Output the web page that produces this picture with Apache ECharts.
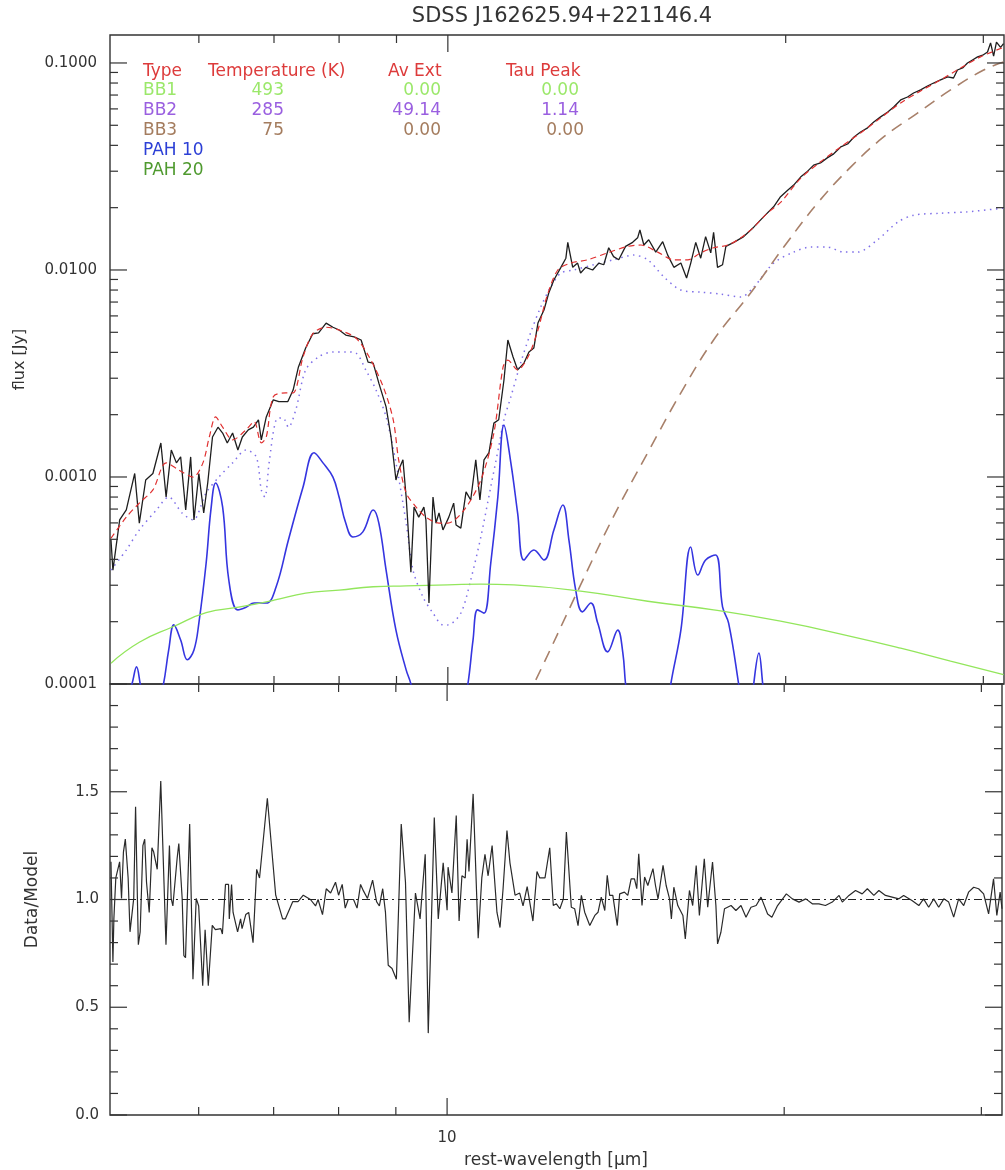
<!DOCTYPE html>
<html><head><meta charset="utf-8">
<script src="https://cdn.jsdelivr.net/npm/echarts@6/dist/echarts.min.js"></script>
<style>html,body{margin:0;padding:0;background:#fff}#c{width:1005px;height:1170px}</style>
</head><body><div id="c"></div>
<script>
const titleText = 'SDSS J162625.94+221146.4';
const XMIN = 5.0, XMAX = 31.3;
const FLUX_MIN = 0.0001, FLUX_MAX = 0.1365;
const RATIO_MIN = 0, RATIO_MAX = 2;

const xLabelTicks = [10];
const xMinorTicks = [6, 7, 8, 9, 20, 30];
const fluxMajorTicks = [0.0001, 0.001, 0.01, 0.1];
const fluxMinorTicks = [0.0002,0.0003,0.0004,0.0005,0.0006,0.0007,0.0008,0.0009,
  0.002,0.003,0.004,0.005,0.006,0.007,0.008,0.009,
  0.02,0.03,0.04,0.05,0.06,0.07,0.08,0.09];
const ratioMajorTicks = [0, 0.5, 1.0, 1.5];
const ratioMinorTicks = [0.1,0.2,0.3,0.4,0.6,0.7,0.8,0.9,1.1,1.2,1.3,1.4,1.6,1.7,1.8,1.9];

const legendHeader = ['Type', 'Temperature (K)', 'Av Ext', 'Tau Peak'];
const legendNames = ['BB1', 'BB2', 'BB3', 'PAH 10', 'PAH 20'];
const legendTemps = ['493', '285', '75', '', ''];
const legendAvExt = ['0.00', '49.14', '0.00', '', ''];
const legendTau = ['0.00', '1.14', '0.00', '', ''];

// observed spectrum [wavelength um, flux Jy]
const dataFlux = [[5.01,0.000496],[5.03,0.000355],[5.10,0.00062],[5.17,0.000693],[5.26,0.00104],[5.31,0.000599],[5.38,0.000967],[5.46,0.00104],[5.55,0.00146],[5.61,0.000801],[5.67,0.00135],[5.73,0.00117],[5.78,0.00125],[5.84,0.000693],[5.90,0.00125],[5.94,0.00062],[6.00,0.00104],[6.06,0.00067],[6.11,0.000935],[6.17,0.00156],[6.24,0.00174],[6.30,0.00163],[6.36,0.00146],[6.43,0.00163],[6.50,0.00135],[6.56,0.00156],[6.64,0.00169],[6.71,0.00174],[6.78,0.00189],[6.82,0.00151],[6.89,0.00195],[6.99,0.00236],[7.07,0.00231],[7.20,0.00231],[7.28,0.00263],[7.36,0.0034],[7.47,0.0042],[7.58,0.00492],[7.67,0.00497],[7.79,0.00554],[7.90,0.00529],[8.00,0.00513],[8.11,0.00485],[8.25,0.00475],[8.37,0.00459],[8.49,0.00359],[8.58,0.00355],[8.68,0.00284],[8.81,0.00218],[8.90,0.00156],[8.99,0.000967],[9.04,0.00108],[9.12,0.00121],[9.18,0.0008],[9.27,0.000347],[9.33,0.000715],[9.42,0.00064],[9.52,0.000715],[9.56,0.00062],[9.62,0.000246],[9.70,0.0008],[9.76,0.000599],[9.82,0.00067],[9.90,0.000555],[10.02,0.00064],[10.12,0.000748],[10.17,0.000586],[10.27,0.000566],[10.38,0.000847],[10.48,0.000774],[10.59,0.00121],[10.68,0.000774],[10.77,0.00121],[10.88,0.00131],[10.99,0.00182],[11.10,0.00189],[11.22,0.00294],[11.31,0.00459],[11.43,0.00381],[11.54,0.00329],[11.69,0.00355],[11.81,0.00402],[11.93,0.0042],[12.03,0.00554],[12.18,0.00641],[12.30,0.00774],[12.43,0.00895],[12.61,0.0103],[12.74,0.0114],[12.79,0.0136],[12.92,0.0103],[13.05,0.0108],[13.13,0.00967],[13.27,0.0103],[13.46,0.0100],[13.63,0.0108],[13.77,0.0106],[13.91,0.0128],[14.05,0.0116],[14.20,0.0112],[14.40,0.0130],[14.61,0.0136],[14.76,0.0143],[14.83,0.0156],[14.95,0.0132],[15.10,0.0140],[15.32,0.0122],[15.54,0.0137],[15.70,0.0118],[15.90,0.0103],[16.13,0.0108],[16.32,0.00915],[16.46,0.0108],[16.63,0.0136],[16.80,0.0114],[16.97,0.0145],[17.15,0.0121],[17.25,0.0152],[17.39,0.0103],[17.57,0.0106],[17.69,0.0130],[17.98,0.0136],[18.35,0.0145],[18.73,0.0161],[19.12,0.0181],[19.51,0.0202],[19.79,0.0226],[20.08,0.0243],[20.33,0.0257],[20.62,0.0281],[20.88,0.0297],[21.18,0.0321],[21.48,0.0329],[21.78,0.0348],[22.07,0.0364],[22.39,0.0393],[22.71,0.0406],[23.01,0.0439],[23.32,0.0464],[23.66,0.0486],[23.96,0.0519],[24.30,0.0549],[24.66,0.058],[24.96,0.0613],[25.32,0.0663],[25.68,0.0685],[26.00,0.0716],[26.38,0.0741],[26.75,0.0774],[27.09,0.08],[27.48,0.0828],[27.88,0.0856],[28.22,0.0846],[28.45,0.0925],[28.75,0.0946],[29.04,0.100],[29.34,0.1034],[29.65,0.107],[29.96,0.109],[30.26,0.113],[30.45,0.125],[30.64,0.108],[30.82,0.126],[31.08,0.119],[31.27,0.124]];

// total model
const modelFlux = [[5.01,0.000506],[5.17,0.00064],[5.31,0.000748],[5.46,0.000866],[5.61,0.00117],[5.76,0.00108],[5.93,0.000998],[6.05,0.00117],[6.13,0.00156],[6.21,0.00195],[6.30,0.00174],[6.43,0.00151],[6.61,0.00169],[6.72,0.00185],[6.82,0.00146],[6.89,0.00156],[6.99,0.00244],[7.17,0.00255],[7.28,0.00255],[7.43,0.0038],[7.58,0.00492],[7.79,0.00529],[8.00,0.00513],[8.28,0.00469],[8.51,0.0038],[8.76,0.00272],[8.94,0.00189],[9.04,0.00121],[9.18,0.000838],[9.37,0.000715],[9.56,0.00064],[9.82,0.000599],[10.0,0.000599],[10.34,0.000693],[10.70,0.000967],[10.99,0.00163],[11.20,0.0034],[11.31,0.00367],[11.54,0.00329],[11.79,0.00381],[12.03,0.00513],[12.25,0.0074],[12.53,0.0100],[12.87,0.0108],[13.32,0.0112],[13.88,0.0121],[14.46,0.0130],[14.86,0.0132],[15.38,0.0122],[15.90,0.0112],[16.36,0.0112],[16.80,0.0121],[17.25,0.0128],[17.76,0.0132],[18.24,0.0143],[18.73,0.0161],[19.28,0.0189],[19.79,0.0212],[20.62,0.0277],[21.48,0.0333],[22.39,0.0393],[23.32,0.0459],[24.30,0.0543],[25.32,0.0641],[26.38,0.0733],[27.48,0.0828],[28.63,0.0946],[29.83,0.107],[31.27,0.119]];

// BB2 (extinguished) component
const bb2Flux = [[5.01,0.000355],[5.17,0.000444],[5.31,0.000555],[5.50,0.000693],[5.64,0.000801],[5.80,0.000668],[5.93,0.00062],[6.09,0.000838],[6.25,0.000998],[6.43,0.00117],[6.61,0.00135],[6.75,0.00125],[6.82,0.000866],[6.87,0.0008],[6.93,0.00117],[7.03,0.00189],[7.13,0.00193],[7.21,0.00174],[7.32,0.00211],[7.47,0.00329],[7.67,0.0038],[7.90,0.00402],[8.11,0.00402],[8.28,0.00397],[8.45,0.00329],[8.63,0.00263],[8.81,0.00195],[8.99,0.00117],[9.18,0.000599],[9.31,0.000355],[9.50,0.000264],[9.70,0.00022],[9.90,0.000193],[10.0,0.000193],[10.27,0.00022],[10.48,0.000318],[10.70,0.000513],[10.92,0.000895],[11.10,0.0014],[11.22,0.00189],[11.38,0.00244],[11.61,0.00355],[11.85,0.00497],[12.10,0.00663],[12.35,0.00828],[12.61,0.00967],[12.95,0.0100],[13.49,0.0106],[14.05,0.0112],[14.64,0.0118],[15.07,0.0112],[15.58,0.00925],[16.13,0.0080],[16.80,0.00782],[17.50,0.00765],[18.24,0.0074],[18.73,0.00827],[19.51,0.0108],[20.33,0.0122],[21.05,0.0129],[21.78,0.0129],[22.53,0.0122],[23.18,0.0122],[24.15,0.0140],[25.16,0.0170],[26.00,0.0184],[27.48,0.0188],[29.04,0.0191],[31.27,0.0199]];

// PAH component
const pahFlux = [[5.17,0.00007],[5.20,0.000093],[5.23,0.0001],[5.28,0.000121],[5.32,0.0001],[5.35,0.000084],[5.46,0.00006],[5.55,0.000094],[5.58,0.0001],[5.64,0.000146],[5.70,0.000193],[5.78,0.000163],[5.86,0.000131],[5.94,0.000146],[6.00,0.000197],[6.09,0.000383],[6.15,0.000693],[6.21,0.000935],[6.30,0.000715],[6.38,0.000318],[6.50,0.000228],[6.61,0.000235],[6.72,0.000246],[6.89,0.000246],[7.03,0.000294],[7.21,0.000496],[7.43,0.000895],[7.60,0.00131],[7.74,0.00117],[7.90,0.000998],[8.00,0.0008],[8.11,0.000599],[8.23,0.000513],[8.40,0.000543],[8.58,0.000693],[8.68,0.000599],[8.81,0.000355],[8.99,0.000182],[9.18,0.000117],[9.27,0.0001],[9.42,0.000067],[9.86,0.00005],[10.27,0.000067],[10.42,0.0001],[10.53,0.000163],[10.63,0.000228],[10.77,0.00022],[10.92,0.000383],[11.08,0.0008],[11.22,0.00178],[11.38,0.00117],[11.54,0.000667],[11.69,0.000397],[11.93,0.000444],[12.18,0.000397],[12.43,0.000555],[12.66,0.000732],[12.82,0.000496],[13.00,0.000284],[13.18,0.000223],[13.41,0.000246],[13.60,0.000197],[13.88,0.000143],[14.17,0.000182],[14.32,0.000141],[14.40,0.0001],[14.55,0.000067],[15.16,0.00005],[15.64,0.000067],[15.80,0.0001],[16.13,0.000182],[16.46,0.000459],[16.70,0.000336],[16.97,0.000397],[17.32,0.00042],[17.57,0.000236],[17.79,0.000197],[18.16,0.0001],[18.35,0.000067],[18.61,0.000067],[18.73,0.0001],[18.93,0.000141],[19.08,0.0001],[19.24,0.000067],[20.62,0.00004]];

// BB1 component
const bb1Flux = [[5.01,0.000126],[5.31,0.000159],[5.69,0.000189],[6.09,0.000221],[6.51,0.000235],[7.00,0.000254],[7.47,0.000275],[8.00,0.000284],[8.58,0.000295],[9.18,0.000298],[10.0,0.000301],[10.70,0.000304],[11.45,0.000301],[13.13,0.000281],[15.07,0.000251],[17.25,0.000228],[19.79,0.000201],[22.85,0.00017],[25.32,0.000149],[28.05,0.000129],[31.27,0.000111]];

// BB3 component
const bb3Flux = [[11.74,0.000086],[11.93,0.0001],[13.13,0.000301],[14.05,0.000645],[15.07,0.00131],[16.13,0.00255],[17.25,0.00459],[18.61,0.00774],[19.92,0.0129],[21.36,0.0211],[22.85,0.0314],[24.45,0.0439],[26.21,0.0573],[28.05,0.0741],[30.02,0.0925],[31.27,0.101]];

// data / model ratio
const ratioData = [[5.01,1.175],[5.03,0.71],[5.04,0.91],[5.06,1.10],[5.10,1.175],[5.12,1.005],[5.14,1.22],[5.16,1.28],[5.19,1.10],[5.21,0.85],[5.25,1.005],[5.27,1.43],[5.30,0.79],[5.32,0.85],[5.35,1.25],[5.37,1.28],[5.39,1.08],[5.42,0.94],[5.45,1.24],[5.47,1.22],[5.51,1.14],[5.55,1.55],[5.61,0.79],[5.65,1.25],[5.67,1.005],[5.69,0.97],[5.74,1.19],[5.76,1.26],[5.80,1.005],[5.82,0.74],[5.84,0.73],[5.89,1.35],[5.93,0.63],[5.97,1.005],[6.00,0.97],[6.05,0.60],[6.08,0.86],[6.12,0.60],[6.17,0.88],[6.21,0.86],[6.28,0.865],[6.30,0.84],[6.34,1.07],[6.38,1.07],[6.39,0.91],[6.42,1.07],[6.44,0.94],[6.50,0.85],[6.54,0.91],[6.56,0.865],[6.61,0.93],[6.65,0.94],[6.71,0.80],[6.76,1.14],[6.80,1.10],[6.91,1.47],[7.03,1.02],[7.13,0.91],[7.17,0.91],[7.28,0.99],[7.36,0.99],[7.44,1.02],[7.55,1.00],[7.63,0.97],[7.67,1.00],[7.74,0.93],[7.80,1.05],[7.87,1.03],[7.95,1.08],[8.00,1.02],[8.06,1.07],[8.11,0.96],[8.16,1.00],[8.25,1.00],[8.31,0.96],[8.37,1.07],[8.42,1.04],[8.49,1.005],[8.58,1.09],[8.65,0.99],[8.70,0.97],[8.76,1.05],[8.81,0.94],[8.86,0.695],[8.93,0.68],[9.01,0.63],[9.10,1.35],[9.18,1.08],[9.25,0.43],[9.37,1.03],[9.46,0.91],[9.56,1.21],[9.62,0.38],[9.74,1.38],[9.82,0.91],[9.92,1.17],[10.0,0.95],[10.02,1.15],[10.10,1.03],[10.19,1.39],[10.25,0.90],[10.31,1.11],[10.38,1.10],[10.42,1.28],[10.46,1.13],[10.55,1.49],[10.66,0.82],[10.74,1.10],[10.81,1.21],[10.88,1.11],[10.97,1.25],[11.08,0.94],[11.15,0.87],[11.22,1.05],[11.31,1.32],[11.38,1.17],[11.50,1.02],[11.61,1.03],[11.69,0.97],[11.79,1.06],[11.93,0.90],[12.03,1.13],[12.10,1.10],[12.23,1.10],[12.35,1.24],[12.44,0.972],[12.52,0.98],[12.61,0.957],[12.70,1.003],[12.78,1.313],[12.91,0.964],[13.00,0.957],[13.09,0.879],[13.18,1.019],[13.27,0.941],[13.41,0.879],[13.55,0.926],[13.64,0.941],[13.73,1.011],[13.83,0.949],[13.90,1.112],[13.97,1.019],[14.06,1.019],[14.19,0.879],[14.26,1.026],[14.40,1.034],[14.50,1.019],[14.60,1.096],[14.70,1.096],[14.77,1.05],[14.83,1.212],[14.93,0.972],[15.01,1.104],[15.11,1.065],[15.27,1.143],[15.35,1.065],[15.43,1.003],[15.59,1.158],[15.69,1.065],[15.80,1.003],[15.86,0.91],[15.94,1.057],[16.07,0.972],[16.24,0.926],[16.32,0.817],[16.46,1.042],[16.57,0.972],[16.69,1.158],[16.80,0.926],[16.97,1.189],[17.09,0.964],[17.26,1.174],[17.38,0.972],[17.44,0.794],[17.56,0.848],[17.69,0.957],[17.93,0.972],[18.11,0.949],[18.30,0.972],[18.49,0.918],[18.68,0.964],[18.88,0.972],[19.07,1.011],[19.33,0.933],[19.50,0.918],[19.73,0.972],[20.09,1.026],[20.34,1.003],[20.62,0.988],[20.91,1.003],[21.19,0.98],[21.48,0.98],[21.77,0.972],[22.08,0.988],[22.39,1.019],[22.54,0.988],[22.85,1.019],[23.16,1.042],[23.48,1.026],[23.73,1.05],[24.05,1.019],[24.30,1.042],[24.63,1.019],[24.97,1.011],[25.32,1.003],[25.57,1.019],[26.01,0.995],[26.38,0.972],[26.64,1.003],[26.92,0.964],[27.20,1.003],[27.48,0.964],[27.77,1.003],[28.05,0.988],[28.34,0.918],[28.63,1.003],[28.93,0.972],[29.22,1.034],[29.53,1.057],[29.83,1.05],[30.14,1.026],[30.45,0.933],[30.76,1.096],[30.97,0.926],[31.18,1.034],[31.30,0.957]];

const unityLine = [[5.0, 1.0], [31.3, 1.0]];

const FONT = 'DejaVu Sans';
const TXT = '#333';

function tickSeries(xi, yi, majorY, minorY, yMin, yMax) {
  const d = [];
  majorY.forEach(v => { d.push([XMIN, v, 0, 0]); d.push([XMAX, v, 1, 0]); });
  minorY.forEach(v => { d.push([XMIN, v, 0, 1]); d.push([XMAX, v, 1, 1]); });
  xLabelTicks.forEach(v => { d.push([v, yMin, 2, 0]); d.push([v, yMax, 3, 0]); });
  xMinorTicks.forEach(v => { d.push([v, yMin, 2, 1]); d.push([v, yMax, 3, 1]); });
  return {
    type: 'custom', xAxisIndex: xi, yAxisIndex: yi, clip: false, silent: true, z: 20,
    encode: { x: 0, y: 1 },
    data: d,
    renderItem: function (params, api) {
      const p = api.coord([api.value(0), api.value(1)]);
      const side = api.value(2);
      const len = api.value(3) === 0 ? 17 : 8;
      let dx = 0, dy = 0;
      if (side === 0) dx = len; else if (side === 1) dx = -len;
      else if (side === 2) dy = -len; else dy = len;
      return { type: 'line', shape: { x1: p[0], y1: p[1], x2: p[0] + dx, y2: p[1] + dy },
        style: { stroke: '#333', lineWidth: 1.2 } };
    }
  };
}

const legendColors = ['#9be86a', '#9a5fe0', '#a47c5e', '#2c3fd6', '#4f9a2f'];
const headerColor = '#dd3b3b';
const LFONT = '17px ' + FONT;
const graphics = [];
const hdrX = [143, 208, 388, 506];
legendHeader.forEach((t, i) => graphics.push({ type: 'text', x: hdrX[i], y: 72,
  style: { text: t, fill: headerColor, font: LFONT, verticalAlign: 'middle', align: 'left' } }));
legendNames.forEach((t, i) => {
  const y = 91 + i * 20;
  const c = legendColors[i];
  graphics.push({ type: 'text', x: 143, y, style: { text: t, fill: c, font: LFONT, verticalAlign: 'middle', align: 'left' } });
  if (legendTemps[i]) graphics.push({ type: 'text', x: 284, y, style: { text: legendTemps[i], fill: c, font: LFONT, verticalAlign: 'middle', align: 'right' } });
  if (legendAvExt[i]) graphics.push({ type: 'text', x: 441, y, style: { text: legendAvExt[i], fill: c, font: LFONT, verticalAlign: 'middle', align: 'right' } });
  if (legendTau[i]) graphics.push({ type: 'text', x: i === 2 ? 584 : 579, y, style: { text: legendTau[i], fill: c, font: LFONT, verticalAlign: 'middle', align: 'right' } });
});

function isDecade(v) { const l = Math.log10(v); return Math.abs(l - Math.round(l)) < 1e-6; }

const chart = echarts.init(document.getElementById('c'), null, { renderer: 'canvas' });
chart.setOption({
  animation: false,
  backgroundColor: '#fff',
  title: { text: titleText, left: 557, top: 1, textAlign: 'center',
    textStyle: { fontFamily: FONT, fontSize: 21, fontWeight: 'normal', color: TXT } },
  grid: [
    { left: 110, top: 35, width: 894, height: 649, show: true, borderColor: '#333', borderWidth: 1.4, backgroundColor: 'transparent' },
    { left: 110, top: 684, width: 894, height: 431, show: true, borderColor: '#333', borderWidth: 1.4, backgroundColor: 'transparent' }
  ],
  xAxis: [
    { type: 'log', gridIndex: 0, min: XMIN, max: XMAX, axisLine: { show: false }, axisTick: { show: false },
      axisLabel: { show: false }, splitLine: { show: false } },
    { type: 'log', gridIndex: 1, min: XMIN, max: XMAX, axisLine: { show: false }, axisTick: { show: false },
      splitLine: { show: false },
      axisLabel: { margin: 16, fontFamily: FONT, fontSize: 15, color: TXT,
        formatter: v => (xLabelTicks.some(t => Math.abs(t - v) < 1e-6) ? String(Math.round(v)) : '') },
      name: 'rest-wavelength [\u03bcm]', nameLocation: 'middle', nameGap: 37,
      nameTextStyle: { fontFamily: FONT, fontSize: 17, color: TXT } }
  ],
  yAxis: [
    { type: 'log', gridIndex: 0, min: FLUX_MIN, max: FLUX_MAX, axisLine: { show: false }, axisTick: { show: false },
      splitLine: { show: false },
      axisLabel: { margin: 13, fontFamily: FONT, fontSize: 15, color: TXT,
        formatter: v => (isDecade(v) ? v.toFixed(4) : '') },
      name: 'flux [Jy]', nameLocation: 'middle', nameGap: 82, nameRotate: 90,
      nameTextStyle: { fontFamily: FONT, fontSize: 16, color: TXT } },
    { type: 'value', gridIndex: 1, min: RATIO_MIN, max: RATIO_MAX, interval: 0.5, axisLine: { show: false },
      axisTick: { show: false }, splitLine: { show: false },
      axisLabel: { margin: 11, fontFamily: FONT, fontSize: 15, color: TXT,
        formatter: v => (v >= RATIO_MAX - 1e-9 ? '' : v.toFixed(1)) },
      name: 'Data/Model', nameLocation: 'middle', nameGap: 69, nameRotate: 90,
      nameTextStyle: { fontFamily: FONT, fontSize: 17, color: TXT } }
  ],
  graphic: graphics,
  series: [
    { name: 'data', type: 'line', xAxisIndex: 0, yAxisIndex: 0, data: dataFlux, showSymbol: false,
      lineStyle: { color: '#1e1e1e', width: 1.3 }, z: 3 },
    { name: 'model', type: 'line', xAxisIndex: 0, yAxisIndex: 0, data: modelFlux, showSymbol: false, smooth: 0.3,
      lineStyle: { color: '#e03030', width: 1.2, type: [6, 4] }, z: 4 },
    { name: 'BB2', type: 'line', xAxisIndex: 0, yAxisIndex: 0, data: bb2Flux, showSymbol: false, smooth: 0.3,
      lineStyle: { color: '#7f6fe8', width: 1.5, type: [1.5, 4.5] }, z: 2 },
    { name: 'PAH', type: 'line', xAxisIndex: 0, yAxisIndex: 0, data: pahFlux, showSymbol: false, smooth: 0.4,
      lineStyle: { color: '#3535e0', width: 1.6 }, z: 2 },
    { name: 'BB1', type: 'line', xAxisIndex: 0, yAxisIndex: 0, data: bb1Flux, showSymbol: false, smooth: 0.5,
      lineStyle: { color: '#93e65c', width: 1.3 }, z: 2 },
    { name: 'BB3', type: 'line', xAxisIndex: 0, yAxisIndex: 0, data: bb3Flux, showSymbol: false, smooth: 0.4,
      lineStyle: { color: '#a8806a', width: 1.6, type: [12, 8] }, z: 2 },
    { name: 'ratio', type: 'line', xAxisIndex: 1, yAxisIndex: 1, data: ratioData, showSymbol: false,
      lineStyle: { color: '#2a2a2a', width: 1.2 }, z: 3 },
    { name: 'unity', type: 'line', xAxisIndex: 1, yAxisIndex: 1, data: unityLine, showSymbol: false,
      lineStyle: { color: '#222', width: 1, type: [8, 4, 2, 4] }, z: 4 },
    tickSeries(0, 0, fluxMajorTicks, fluxMinorTicks, FLUX_MIN, FLUX_MAX),
    tickSeries(1, 1, ratioMajorTicks, ratioMinorTicks, RATIO_MIN, RATIO_MAX)
  ]
});
</script></body></html>
